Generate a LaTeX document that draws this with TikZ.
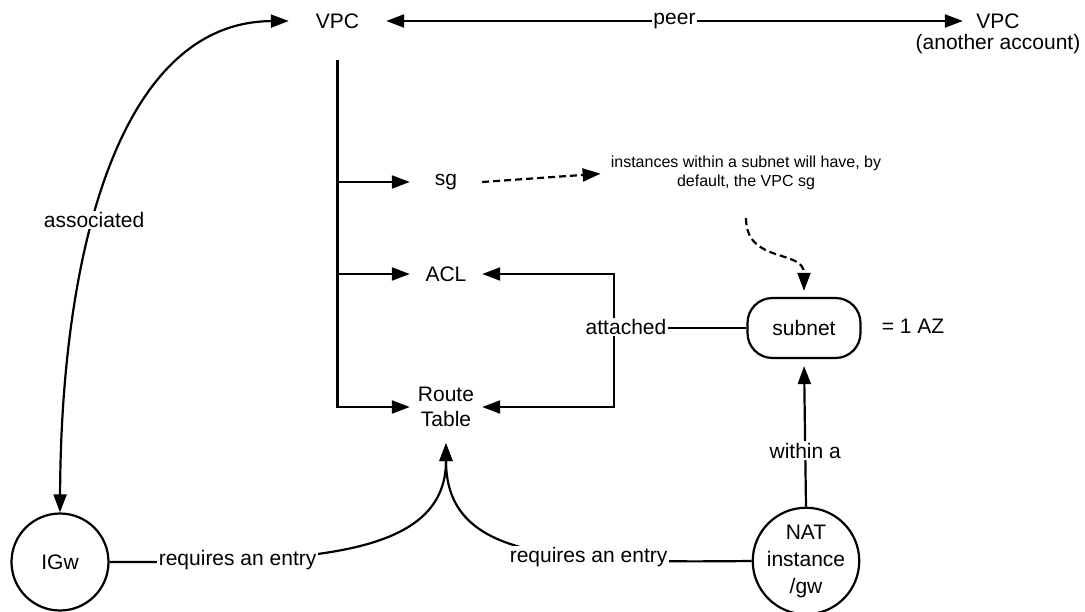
\documentclass[tikz,border=0pt]{standalone}
\usepackage{fontspec}
\setmainfont{Liberation Sans}
\usetikzlibrary{arrows.meta}
\begin{document}
\begin{tikzpicture}[x=1pt,y=-1pt,
  every node/.style={font=\fontsize{21}{25}\selectfont, inner sep=0pt},
  conn/.style={line width=2.2pt},
  arr/.style={conn,-{Triangle[length=18pt,width=13pt]}},
  darr/.style={conn,{Triangle[length=18pt,width=13pt]}-{Triangle[length=18pt,width=13pt]}},
  dsh/.style={dash pattern=on 7pt off 4pt},
  lbl/.style={fill=white, inner sep=1.5pt},
  circ/.style={circle, draw, line width=2.2pt, minimum size=97pt, align=center},
  txtbox/.style={minimum width=72pt, align=center},
]
\useasboundingbox (0,0) rectangle (1085,612);

% nodes
\node[minimum width=97pt, minimum height=78pt] (vpc) at (337.5,21) {VPC};
\node[minimum width=70pt] (vpcb) at (998,21) {VPC};
\node (vpcbsub) at (998,44) {(another account)};
\node[txtbox] (sg) at (446,182) {sg};
\node[txtbox] (acl) at (446,274) {ACL};
\node[txtbox, minimum height=72pt] (rt) at (446,407) {Route\\Table};
\node[align=center, font=\fontsize{16}{19}\selectfont] (note) at (746,173)
  {instances within a subnet will have, by\\default, the VPC sg};
\node[draw, line width=2.2pt, rounded corners=25pt, minimum width=113pt, minimum height=60pt] (subnet) at (804,328) {subnet};
\node (az) at (913,326) {= 1 AZ};
\node[circ, font=\fontsize{21}{27}\selectfont] (nat) at (806,561) {NAT\\instance\\/gw};
\node[circ] (igw) at (60,562) {IGw};
\coordinate (att) at (614,328);

% connectors
\draw[darr] (igw.north) .. controls (61,250) and (120,22) .. (vpc.west)
  node[lbl, pos=0.41] {associated};
\draw[darr] (vpc.east) -- node[lbl] {peer} (vpcb.west);
\draw[arr] (vpc.south) |- (sg.west);
\draw[arr] (vpc.south) |- (acl.west);
\draw[arr] (vpc.south) |- (rt.west);
\draw[arr, dsh, shorten >=10pt] (sg.east) -- (note.west);
\draw[arr, dsh, shorten <=28pt, shorten >=6pt] (note.south) .. controls +(0,74) and +(0,-48) .. (subnet.north);
\draw[arr] (subnet.west) -- (att) |- (acl.east);
\draw[arr] (att) |- (rt.east);
\node[lbl] (attl) at (626,327) {attached};
\draw[arr, shorten >=7pt] (nat.north) -- node[lbl, pos=0.38] {within a} (subnet.south);
\draw[arr] (igw.east) .. controls (300,562) and (446,560) .. (rt.south)
  node[lbl, pos=0.24] {requires an entry};
\draw[arr] (nat.west) .. controls (560,563) and (446,560) .. (rt.south)
  node[lbl, pos=0.33] {requires an entry};
\end{tikzpicture}
\end{document}
